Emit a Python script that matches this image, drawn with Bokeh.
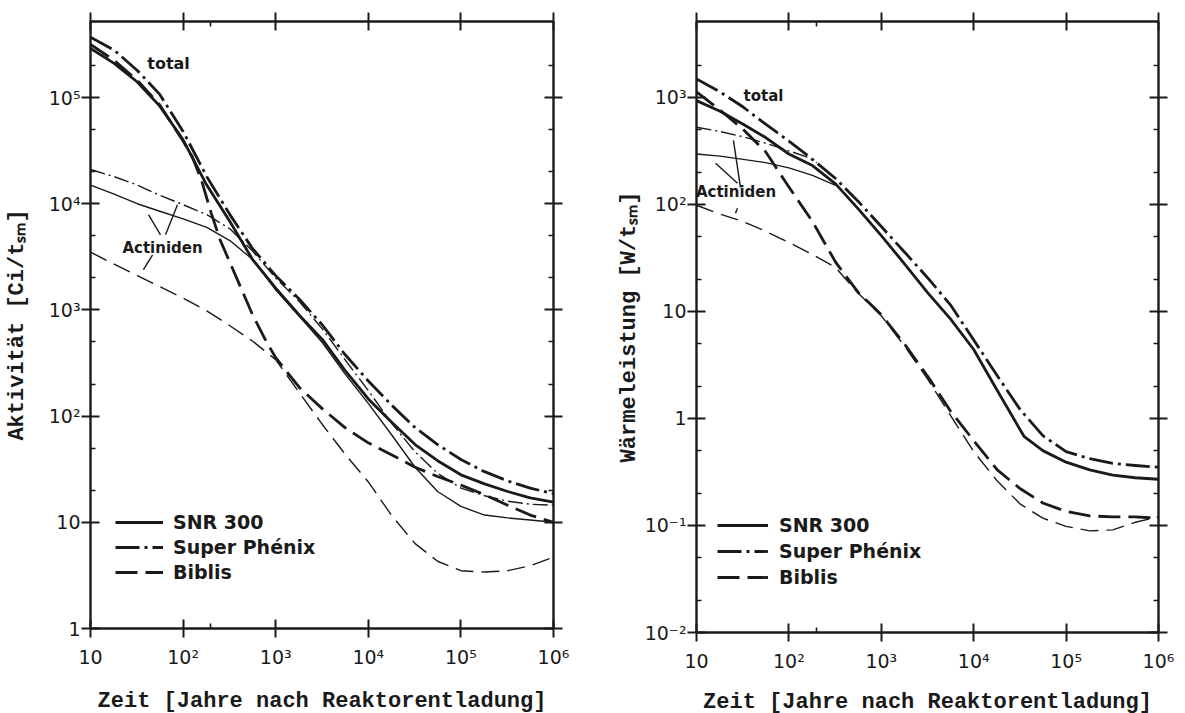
import math
from bokeh.plotting import figure
from bokeh.layouts import row
from bokeh.models import (Range1d, FixedTicker, LogAxis, Label, Legend, LegendItem,
                          CustomJSTickFormatter)
from bokeh.embed import file_html
from bokeh.resources import INLINE

# ------------------------------------------------------------------ data
years = [10, 18, 32, 56, 100, 180, 320, 560, 1e3, 1.8e3, 3.2e3, 5.6e3,
         1e4, 1.8e4, 3.2e4, 5.6e4, 1e5, 1.8e5, 3.2e5, 5.6e5, 1e6]

# left panel: Aktivität [Ci/t_SM]
act_snr_total = [2.9e5, 2.1e5, 1.4e5, 8.3e4, 4.0e4, 1.5e4, 6.8e3, 3.0e3, 1.6e3, 890,
                 525, 270, 145, 87, 54, 38, 28, 23, 19.5, 17, 15.5]
act_superphenix_total = [3.7e5, 2.8e5, 1.8e5, 1.07e5, 4.8e4, 1.8e4, 7.9e3, 3.8e3, 2.1e3,
                         1.26e3, 720, 380, 214, 126, 78, 54, 39, 30, 24.5, 21, 18.6]
years_biblis_total = [10, 18, 32, 56, 100, 126, 158, 200, 250, 320, 420, 560, 750,
                      1e3, 1.8e3, 3.2e3, 5.6e3, 1e4, 1.8e4, 3.2e4, 5.6e4, 1e5,
                      1.8e5, 3.2e5, 5.6e5, 1e6]
act_biblis_total = [3.16e5, 2.24e5, 1.45e5, 8.5e4, 3.9e4, 2.75e4, 1.66e4, 8.3e3, 4.6e3,
                    2.8e3, 1.62e3, 910, 550, 355, 186, 117, 78, 56, 43, 33, 27, 22.4,
                    18.2, 14.5, 11.7, 10]
act_snr_actinides = [1.5e4, 1.23e4, 1.0e4, 8.5e3, 7.2e3, 6.0e3, 4.5e3, 3.0e3, 1.55e3, 870,
                     490, 250, 132, 66, 33, 19.5, 14.1, 11.7, 11.0, 10.5, 10.0]
act_superphenix_actinides = [2.1e4, 1.8e4, 1.5e4, 1.2e4, 9.8e3, 7.9e3, 5.8e3, 3.6e3, 2.0e3,
                             1.2e3, 660, 340, 174, 85, 46, 29, 21, 17.8, 15.8, 14.8, 14.5]
act_biblis_actinides = [3.5e3, 2.7e3, 2.1e3, 1.66e3, 1.29e3, 980, 710, 510, 340, 166, 83,
                        44, 24, 11.5, 6.3, 4.3, 3.5, 3.4, 3.5, 3.9, 4.7]

# right panel: Wärmeleistung [W/t_SM]
years_heat_snr = [10, 18, 32, 56, 100, 180, 320, 560, 1e3, 1.8e3, 3.2e3, 5.6e3,
                  1e4, 1.8e4, 3.5e4, 5.6e4, 1e5, 1.8e5, 3.2e5, 5.6e5, 1e6]
heat_snr_total = [930, 740, 560, 420, 295, 230, 155, 91, 51, 27.5, 14.8, 8.5, 4.4, 1.82,
                  0.68, 0.50, 0.39, 0.33, 0.295, 0.279, 0.27]
heat_superphenix_total = [1.48e3, 1.12e3, 810, 560, 390, 263, 174, 107, 62, 35.5, 20.4,
                          11.5, 5.4, 2.5, 1.2, 0.69, 0.49, 0.42, 0.38, 0.363, 0.35]
heat_biblis_total = [1122, 759, 501, 309, 145, 69, 28.8, 15.1, 9.3, 4.9, 2.45, 1.17, 0.62,
                     0.33, 0.22, 0.162, 0.135, 0.123, 0.12, 0.12, 0.117]
heat_biblis_actinides = [98, 81, 69, 56, 44, 34, 25.7, 14.8, 9.1, 4.7, 2.3, 1.07, 0.49,
                         0.26, 0.158, 0.117, 0.098, 0.089, 0.091, 0.107, 0.12]
years_heat_snr_act = [10, 18, 32, 56, 100, 180, 320]
heat_snr_actinides = [295, 282, 263, 245, 219, 186, 150]
years_heat_sp_act = [10, 18, 32, 56, 100, 160, 200]
heat_superphenix_actinides = [525, 479, 427, 372, 316, 275, 245]

x_ticks = [10, 1e2, 1e3, 1e4, 1e5, 1e6]
x_tick_base = ["10", "10", "10", "10", "10", "10"]
x_tick_exp = ["", "2", "3", "4", "5", "6"]
x_minor = [200]

act_ticks = [1, 10, 1e2, 1e3, 1e4, 1e5]
act_tick_base = ["1", "10", "10", "10", "10", "10"]
act_tick_exp = ["", "", "2", "3", "4", "5"]
act_minor = [20, 50, 200, 500, 2e3, 5e3, 2e4, 5e4, 2e5]

heat_ticks = [1e-2, 1e-1, 1, 10, 1e2, 1e3]
heat_tick_base = ["10", "10", "1", "10", "10", "10"]
heat_tick_exp = ["-2", "-1", "", "", "2", "3"]
heat_minor = [0.02, 0.05, 0.2, 0.5, 2, 5, 20, 50, 200, 500, 2e3]

legend_labels = ["SNR 300", "Super Phénix", "Biblis"]
x_title_text = "Zeit [Jahre nach Reaktorentladung]"
act_title_text = "Aktivität [Ci/tₛₘ]"
heat_title_text = "Wärmeleistung [W/tₛₘ]"

# annotation anchors (data coordinates)
left_total_at = (41, 2.1e5)
left_actiniden_at = (60, 3.87e3)
left_leader_x0 = [42.3, 87, 46.8]
left_leader_y0 = [7.9e3, 9.8e3, 3.3e3]
left_leader_x1 = [57, 64.6, 37.3]
left_leader_y1 = [5.1e3, 5.1e3, 2.4e3]
right_total_at = (32.3, 1020)
right_actiniden_at = (26.8, 129)
right_leader_x0 = [16.1, 25.1, 27.8]
right_leader_y0 = [242, 396, 91.8]
right_leader_x1 = [27.8, 29.9, 26.4]
right_leader_y1 = [157, 144, 82.4]

# ------------------------------------------------------------------ style
INK = "#1a1a1a"
SANS = "DejaVu Sans"
MONO = "Liberation Mono"
W_THICK = 2.8
W_THIN = 1.4
D_SP_THICK = "24 5 3 5"
D_BIB_THICK = "22 8"
D_SP_THIN = "15 4 2 4"
D_BIB_THIN = "18 8"

SUP = str.maketrans("0123456789-", "⁰¹²³⁴⁵⁶⁷⁸⁹⁻")


def tick_text(bases, exps):
    return [b + e.translate(SUP) for b, e in zip(bases, exps)]


def label_formatter(ticks, texts):
    return CustomJSTickFormatter(
        args=dict(vals=list(ticks), labs=list(texts)),
        code="""
        for (let i = 0; i < vals.length; i++) {
            if (Math.abs(tick / vals[i] - 1) < 1e-6) return labs[i];
        }
        return "";
        """)


BLANK = "return ''"


def make_figure(xr, yr, fw, fh, bl, bt, br, bb, yticks, ytexts, yminor,
                ytitle, ytitle_standoff, xtitle_standoff):
    p = figure(x_axis_type="log", y_axis_type="log", title=None,
               x_range=Range1d(*xr), y_range=Range1d(*yr),
               frame_width=fw, frame_height=fh,
               min_border_left=bl, min_border_top=bt, min_border_right=br,
               min_border_bottom=bb, output_backend="svg", toolbar_location=None,
               background_fill_color="white", border_fill_color="white")
    p.grid.visible = False
    p.outline_line_color = None
    p.add_layout(LogAxis(), "above")
    p.add_layout(LogAxis(), "right")
    for ax in p.xaxis:
        ax.ticker = FixedTicker(ticks=x_ticks, minor_ticks=x_minor)
    for ax in p.yaxis:
        ax.ticker = FixedTicker(ticks=yticks, minor_ticks=yminor)
    for ax in p.axis:
        ax.axis_line_width = 2.4
        ax.axis_line_color = INK
        ax.major_tick_line_width = 2
        ax.major_tick_line_color = INK
        ax.major_tick_in = 9
        ax.major_tick_out = 9
        ax.minor_tick_in = 5
        ax.minor_tick_out = 0
        ax.minor_tick_line_width = 1.6
        ax.minor_tick_line_color = INK
        ax.major_label_text_font = SANS
        ax.major_label_text_font_size = "19px"
        ax.major_label_text_color = INK
        ax.formatter = CustomJSTickFormatter(code=BLANK)
    bottom, left = p.below[0], p.left[0]
    bottom.formatter = label_formatter(x_ticks, tick_text(x_tick_base, x_tick_exp))
    left.formatter = label_formatter(yticks, ytexts)
    bottom.major_label_standoff = 8
    left.major_label_standoff = 1
    for ax, txt, so in ((bottom, x_title_text, xtitle_standoff), (left, ytitle, ytitle_standoff)):
        ax.axis_label = txt
        ax.axis_label_text_font = MONO
        ax.axis_label_text_font_style = "bold"
        ax.axis_label_text_font_size = "22px"
        ax.axis_label_text_color = INK
        ax.axis_label_standoff = so
    return p


def curve(p, xs, ys, width, dash="solid"):
    return p.line(xs, ys, line_color=INK, line_width=width, line_dash=dash,
                  line_join="round")


def legend(p, renderers, loc, gw, standoff, spacing):
    lg = Legend(items=[LegendItem(label=l, renderers=[r])
                       for l, r in zip(legend_labels, renderers)],
                location=loc, glyph_width=gw, glyph_height=20, label_height=20,
                label_standoff=standoff, spacing=spacing, padding=0, margin=0,
                border_line_color=None, background_fill_alpha=0,
                label_text_font=SANS, label_text_font_style="bold",
                label_text_font_size="19px", label_text_color=INK)
    p.add_layout(lg)


def note(p, at, text, align, size):
    p.add_layout(Label(x=at[0], y=at[1], text=text, text_align=align,
                       text_baseline="middle", text_font=SANS, text_font_style="bold",
                       text_font_size=f"{size}px", text_color=INK))


# ------------------------------------------------------------------ left panel
p1 = make_figure((10, 1e6), (1, 5.2e5), 463, 607, 90, 20, 47, 86,
                 act_ticks, tick_text(act_tick_base, act_tick_exp), act_minor,
                 act_title_text, 16, 18)
curve(p1, years, act_snr_actinides, W_THIN)
curve(p1, years, act_superphenix_actinides, W_THIN, D_SP_THIN)
curve(p1, years, act_biblis_actinides, W_THIN, D_BIB_THIN)
r1a = curve(p1, years, act_snr_total, W_THICK)
r1b = curve(p1, years, act_superphenix_total, W_THICK, D_SP_THICK)
r1c = curve(p1, years_biblis_total, act_biblis_total, W_THICK, D_BIB_THICK)
p1.segment(left_leader_x0, left_leader_y0, left_leader_x1, left_leader_y1,
           line_color=INK, line_width=1.4)
note(p1, left_total_at, "total", "left", 16)
note(p1, left_actiniden_at, "Actiniden", "center", 15)
legend(p1, [r1a, r1b, r1c], (25, 45), 48, 10, 3)

# ------------------------------------------------------------------ right panel
p2 = make_figure((10, 1e6), (0.01, 5.1e3), 462, 611, 96, 21, 27, 81,
                 heat_ticks, tick_text(heat_tick_base, heat_tick_exp), heat_minor,
                 heat_title_text, 0, 15)
curve(p2, years_heat_snr_act, heat_snr_actinides, W_THIN)
curve(p2, years_heat_sp_act, heat_superphenix_actinides, W_THIN, D_SP_THIN)
curve(p2, years, heat_biblis_actinides, W_THIN, D_BIB_THIN)
r2a = curve(p2, years_heat_snr, heat_snr_total, W_THICK)
r2b = curve(p2, years, heat_superphenix_total, W_THICK, D_SP_THICK)
r2c = curve(p2, years, heat_biblis_total, W_THICK, D_BIB_THICK)
p2.segment(right_leader_x0, right_leader_y0, right_leader_x1, right_leader_y1,
           line_color=INK, line_width=1.4)
note(p2, right_total_at, "total", "left", 15)
note(p2, right_actiniden_at, "Actiniden", "center", 15)
legend(p2, [r2a, r2b, r2c], (21, 44), 51, 11, 4)

layout = row(p1, p2)
open("out.html", "w").write(file_html(layout, INLINE))
